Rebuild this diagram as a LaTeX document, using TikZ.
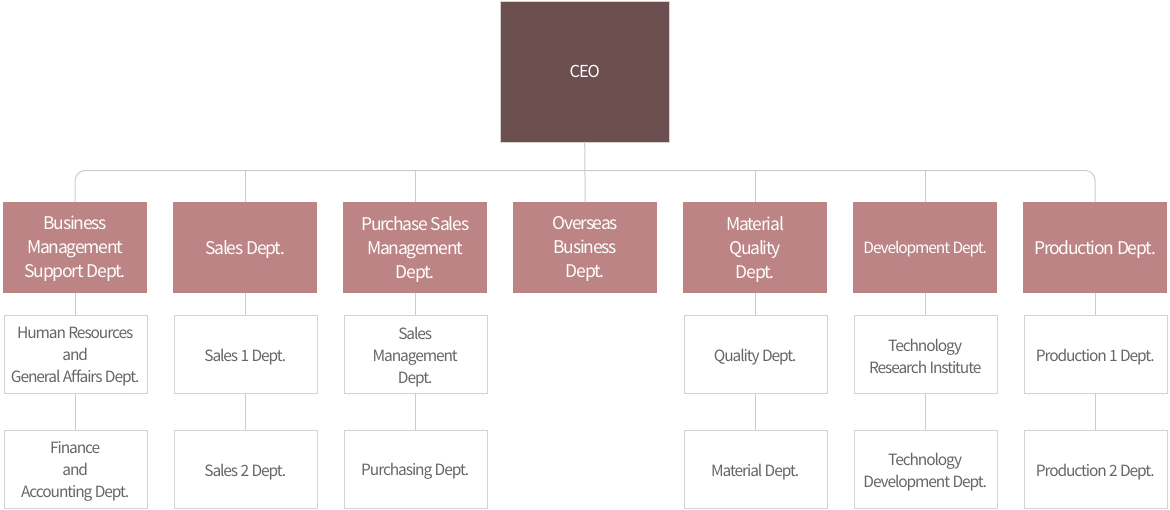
\documentclass[tikz,border=0pt]{standalone}
\usepackage{fontspec}
\setmainfont{Noto Sans CJK KR}[LetterSpace=-7]
\definecolor{ceoc}{HTML}{6C4F4F}
\definecolor{deptc}{HTML}{BC8484}
\definecolor{linec}{HTML}{CCCCCC}
\definecolor{boxline}{HTML}{D3D3D3}
\definecolor{txtc}{HTML}{666666}
\begin{document}
\begin{tikzpicture}[x=1pt,y=-1pt]
\tikzset{
 ceobox/.style={draw=boxline, fill=ceoc, text=white, minimum width=169pt, minimum height=141pt, inner sep=0pt, anchor=north west, font=\fontsize{16.5}{22}\selectfont},
 lvltwo/.style={fill=deptc, minimum width=144pt, minimum height=91pt, inner sep=0pt, anchor=north west},
 twotext/.style={text=white, align=center, inner sep=0pt, yshift=-1.5pt, font=\fontsize{17.5}{24}\selectfont},
 twosmall/.style={text=white, align=center, inner sep=0pt, yshift=-1.5pt, font=\fontsize{15.5}{22}\selectfont},
 lvlthree/.style={draw=boxline, fill=white, minimum width=143pt, minimum height=78pt, inner sep=0pt, anchor=north west},
 threetext/.style={text=txtc, align=center, inner sep=0pt, yshift=-3pt, font=\fontsize{15.5}{22}\selectfont},
 conn/.style={draw=linec, line width=1pt}
}
\useasboundingbox (0,0) rectangle (1170,509);
% CEO
\node[ceobox] (ceo) at (500,0.5) {\raisebox{-1pt}{CEO}};
% level 2
\node[lvltwo, label={[twotext]center:{Business\\Management\\Support Dept.}}] (d1) at (3,202) {};
\node[lvltwo, label={[twotext]center:{Sales Dept.}}] (d2) at (173,202) {};
\node[lvltwo, label={[twotext]center:{Purchase Sales\\Management\\Dept.}}] (d3) at (343,202) {};
\node[lvltwo, label={[twotext]center:{Overseas\\Business\\Dept.}}] (d4) at (513,202) {};
\node[lvltwo, label={[twotext]center:{Material\\Quality\\Dept.}}] (d5) at (683,202) {};
\node[lvltwo, label={[twosmall]center:{Development Dept.}}] (d6) at (853,202) {};
\node[lvltwo, label={[twotext]center:{Production Dept.}}] (d7) at (1023,202) {};
% level 3
\node[lvlthree, label={[threetext]center:{Human Resources\\and\\General Affairs Dept.}}] (a1) at (3.5,314.5) {};
\node[lvlthree, label={[threetext]center:{Sales 1 Dept.}}] (a2) at (173.5,314.5) {};
\node[lvlthree, label={[threetext]center:{Sales\\Management\\Dept.}}] (a3) at (343.5,314.5) {};
\node[lvlthree, label={[threetext]center:{Quality Dept.}}] (a5) at (683.5,314.5) {};
\node[lvlthree, label={[threetext]center:{Technology\\Research Institute}}] (a6) at (853.5,314.5) {};
\node[lvlthree, label={[threetext]center:{Production 1 Dept.}}] (a7) at (1023.5,314.5) {};
% level 4
\node[lvlthree, label={[threetext]center:{Finance\\and\\Accounting Dept.}}] (b1) at (3.5,429.5) {};
\node[lvlthree, label={[threetext]center:{Sales 2 Dept.}}] (b2) at (173.5,429.5) {};
\node[lvlthree, label={[threetext]center:{Purchasing Dept.}}] (b3) at (343.5,429.5) {};
\node[lvlthree, label={[threetext]center:{Material Dept.}}] (b5) at (683.5,429.5) {};
\node[lvlthree, label={[threetext]center:{Technology\\Development Dept.}}] (b6) at (853.5,429.5) {};
\node[lvlthree, label={[threetext]center:{Production 2 Dept.}}] (b7) at (1023.5,429.5) {};
% connectors
\coordinate (bar) at (0,170.5);
\draw[conn,rounded corners=10pt] (d1.north) -- (d1.north |- bar) -- (d7.north |- bar) -- (d7.north);
\draw[conn] (ceo.south) -- (d4.north);
\foreach \i in {2,3,5,6} { \draw[conn] (d\i.north) -- (d\i.north |- bar); }
\foreach \i in {1,2,3,5,6,7} {
  \draw[conn] (d\i.south) -- (a\i.north);
  \draw[conn] (a\i.south) -- (b\i.north);
}
\end{tikzpicture}
\end{document}
